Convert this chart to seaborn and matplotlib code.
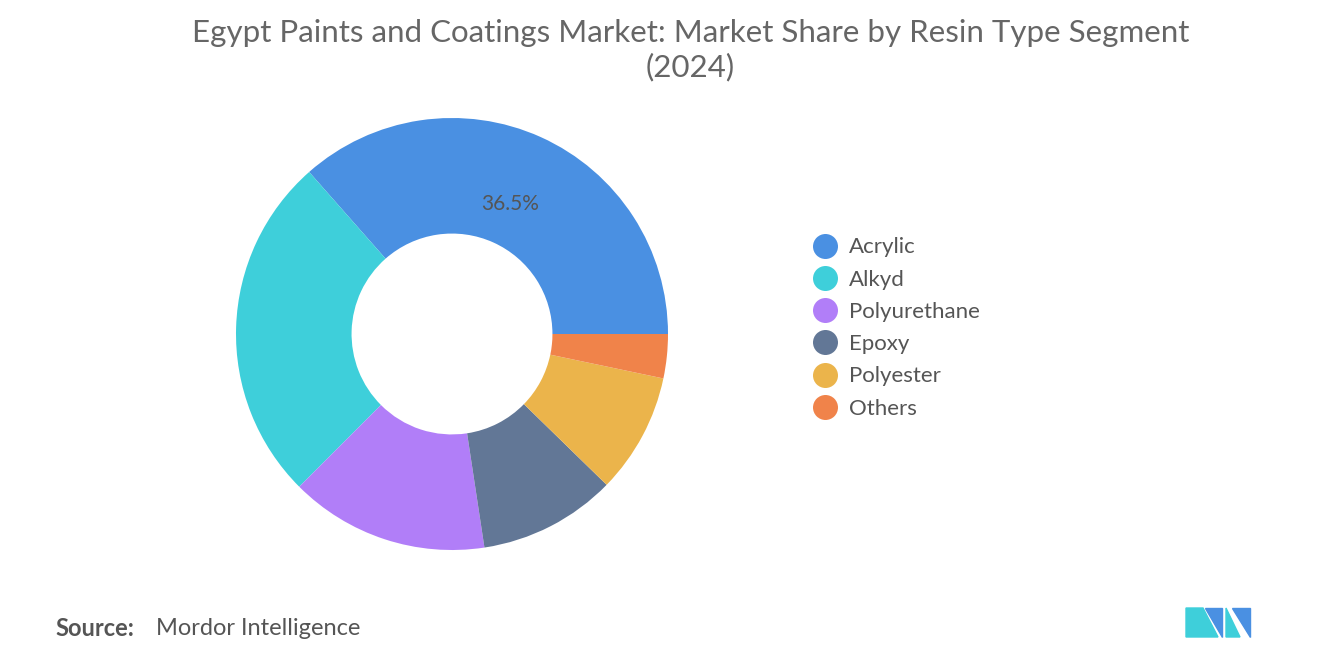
import matplotlib
matplotlib.use("Agg")
import matplotlib.pyplot as plt
import seaborn as sns
from matplotlib.patches import Polygon

sns.set_theme(style="white", font="Lato")

categories = ["Acrylic", "Alkyd", "Polyurethane", "Epoxy", "Polyester", "Others"]
shares = [36.5, 26.0, 14.9, 10.3, 9.0, 3.3]
colors = ["#4a90e2", "#3ecfda", "#b17ef8", "#627796", "#ebb44b", "#f0834a"]

fig = plt.figure(figsize=(13.2, 6.65), dpi=100)
# donut centre ~ (452, 334), outer radius ~216 px
ax = fig.add_axes([(452 - 216) / 1320, 1 - (334 + 216) / 665, 432 / 1320, 432 / 665])
wedges, _ = ax.pie(shares, colors=colors, startangle=0, counterclock=True,
                   radius=1.0, wedgeprops=dict(width=0.535, edgecolor="none"))
ax.set_xlim(-1, 1)
ax.set_ylim(-1, 1)
ax.set_aspect("equal")
ax.text(0.27, 0.6, f"{shares[0]}%", ha="center", va="center", fontsize=15, color="#555555")

fig.text(0.523, 0.972, "Egypt Paints and Coatings Market: Market Share by Resin Type Segment\n(2024)",
         ha="center", va="top", fontsize=22.5, color="#666666", linespacing=1.25)

handles = [plt.Line2D([], [], marker="o", linestyle="", markersize=18, markerfacecolor=c,
                      markeredgecolor="none") for c in colors]
fig.legend(handles, categories, loc="upper left", bbox_to_anchor=(0.593, 0.673), frameon=False,
           fontsize=16, labelcolor="#555555", handletextpad=0.1, labelspacing=0.55)

fig.text(0.042, 0.055, "Source:", fontsize=17, color="#555555", fontweight="bold", va="center")
fig.text(0.118, 0.055, "Mordor Intelligence", fontsize=17, color="#555555", va="center")

# simple logo
W, H = 1320, 665
def poly(pts, c):
    fig.patches.append(Polygon([(x / W, 1 - y / H) for x, y in pts], closed=True,
                               transform=fig.transFigure, color=c))
poly([(1186, 637), (1186, 608), (1203, 608), (1218, 637)], "#3ecfda")
poly([(1205, 608), (1222, 608), (1222, 637)], "#4a90e2")
poly([(1226, 637), (1226, 608), (1240, 637)], "#3ecfda")
poly([(1232, 608), (1250, 608), (1250, 637)], "#4a90e2")

fig.savefig("out.png", dpi=100)
